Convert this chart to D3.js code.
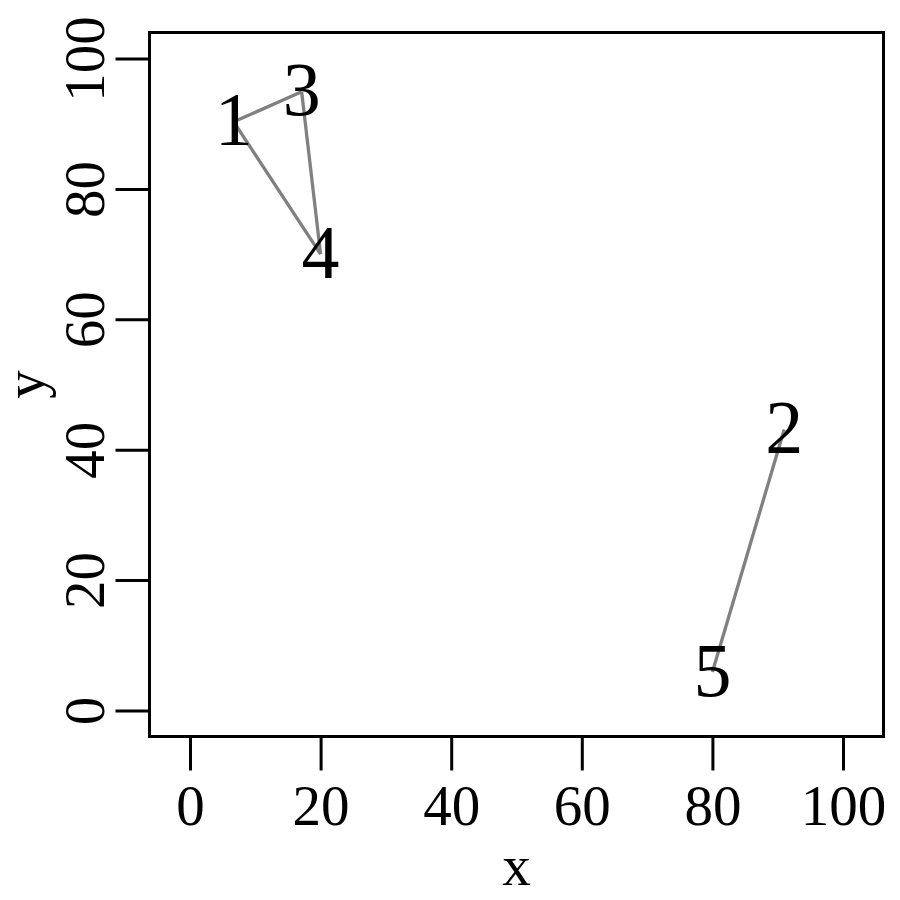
<!DOCTYPE html>
<html>
<head>
<meta charset="utf-8">
<script src="https://cdn.jsdelivr.net/npm/d3@7"></script>
<style>
  body { margin: 0; background: #fff; }
  svg { display: block; }
  text { font-family: "Liberation Serif", "Times New Roman", serif; fill: #000; }
</style>
</head>
<body>
<svg id="chart" width="900" height="900"></svg>
<script>
// point labels and coordinates
const labels = ["1", "2", "3", "4", "5"];
const xs = [6.7, 91, 17.1, 20, 80];
const ys = [90.3, 43.1, 94.9, 70, 5.9];
// segments joining points (by label)
const links = [["1", "3"], ["3", "4"], ["4", "1"], ["2", "5"]];
const xTicks = [0, 20, 40, 60, 80, 100];
const yTicks = [0, 20, 40, 60, 80, 100];

const margin = {top: 32.5, right: 16.5, bottom: 163.5, left: 149.5};
const width = 900, height = 900;
const tickFont = 57;

const svg = d3.select("#chart");

const x = d3.scaleLinear()
    .domain([-6.2, 106.2])
    .range([margin.left, width - margin.right]);
const y = d3.scaleLinear()
    .domain([-4, 104])
    .range([height - margin.bottom, margin.top]);

const pts = labels.map((l, i) => ({label: l, x: xs[i], y: ys[i]}));
const byLabel = new Map(pts.map(p => [p.label, p]));

// x axis
const xAxis = svg.append("g")
    .attr("transform", `translate(0,${height - margin.bottom})`)
    .call(d3.axisBottom(x).tickValues(xTicks).tickSize(34).tickSizeOuter(0).tickPadding(14));
xAxis.select(".domain").remove();
xAxis.selectAll(".tick line").attr("stroke", "#000").attr("stroke-width", 3);
xAxis.selectAll(".tick text").attr("font-size", tickFont).attr("font-family", "Liberation Serif");

// y axis, labels rotated like base R
const yAxis = svg.append("g")
    .attr("transform", `translate(${margin.left},0)`)
    .call(d3.axisLeft(y).tickValues(yTicks).tickSize(34).tickSizeOuter(0));
yAxis.select(".domain").remove();
yAxis.selectAll(".tick line").attr("stroke", "#000").attr("stroke-width", 3);
yAxis.selectAll(".tick text")
    .attr("x", null).attr("dy", null)
    .attr("text-anchor", "middle")
    .attr("transform", "translate(-46,0) rotate(-90)")
    .attr("font-size", tickFont).attr("font-family", "Liberation Serif");

// plot box
svg.append("rect")
    .attr("x", margin.left).attr("y", margin.top)
    .attr("width", width - margin.left - margin.right)
    .attr("height", height - margin.top - margin.bottom)
    .attr("fill", "none").attr("stroke", "#000").attr("stroke-width", 3);

// axis titles
svg.append("text")
    .attr("x", (margin.left + width - margin.right) / 2)
    .attr("y", 885)
    .attr("text-anchor", "middle")
    .attr("font-size", tickFont)
    .text("x");
svg.append("text")
    .attr("transform", `translate(44,${(margin.top + height - margin.bottom) / 2}) rotate(-90)`)
    .attr("text-anchor", "middle")
    .attr("font-size", tickFont)
    .text("y");

// connecting segments
svg.append("g").selectAll("line")
    .data(links)
    .join("line")
    .attr("x1", d => x(byLabel.get(d[0]).x))
    .attr("y1", d => y(byLabel.get(d[0]).y))
    .attr("x2", d => x(byLabel.get(d[1]).x))
    .attr("y2", d => y(byLabel.get(d[1]).y))
    .attr("stroke", "#808080")
    .attr("stroke-width", 3.3);

// point labels
svg.append("g").selectAll("text")
    .data(pts)
    .join("text")
    .attr("x", d => x(d.x))
    .attr("y", d => y(d.y))
    .attr("dy", "0.31em")
    .attr("text-anchor", "middle")
    .attr("font-size", 76)
    .text(d => d.label);
</script>
</body>
</html>
